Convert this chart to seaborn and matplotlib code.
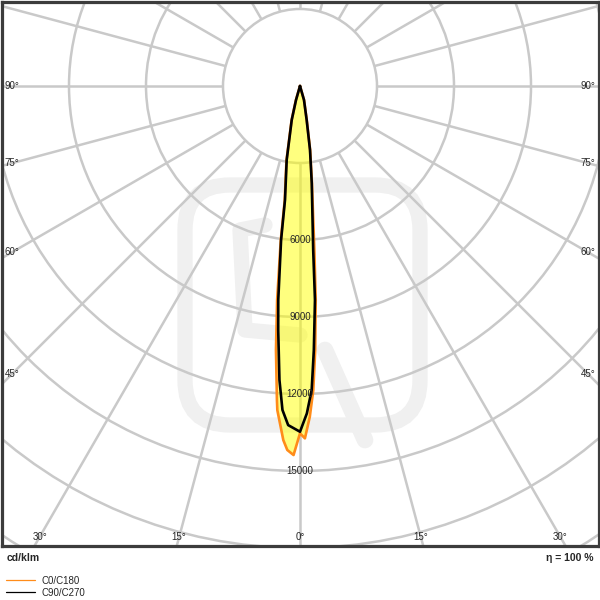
import numpy as np
import matplotlib
matplotlib.use("Agg")
import matplotlib.pyplot as plt
import seaborn as sns
from matplotlib.path import Path
from matplotlib.patches import PathPatch, Circle, FancyBboxPatch
from matplotlib.lines import Line2D

sns.set_style("white")
plt.rcParams['font.family'] = ['Liberation Sans', 'DejaVu Sans']

# light distribution: gamma (deg from nadir), intensity (cd/klm)
c180_gamma = [0.0, 1.0, 2.0, 2.7, 4.0, 4.2, 5.2, 6.1, 7.1, 7.6, 10.3, 13.8, 16.2, 25.0]
c180_int = [13530, 14380, 14190, 13810, 12660, 12270, 10330, 8390, 6080, 4510, 2950, 1370, 575, 0]
c0_gamma = [0.0, 0.8, 1.7, 2.5, 3.3, 4.2, 5.0, 7.0, 9.0, 11.2, 16.0, 25.0]
c0_int = [13530, 13730, 12890, 11860, 10300, 8360, 6420, 3815, 2525, 1352, 570, 0]

c270_gamma = [0.0, 2.0, 3.1, 4.0, 5.1, 5.8, 7.0, 7.5, 10.2, 13.7, 15.9, 25.0]
c270_int = [13470, 13220, 12640, 11480, 9550, 8380, 6050, 4480, 2930, 1360, 567, 0]
c90_gamma = [0.0, 1.2, 2.2, 3.0, 4.0, 4.6, 6.9, 8.9, 11.1, 15.9, 25.0]
c90_int = [13470, 12760, 11850, 10300, 8360, 6410, 3810, 2520, 1350, 567, 0]

ring_values = [3000, 6000, 9000, 12000, 15000, 18000, 21000, 24000]
ring_labels = [6000, 9000, 12000, 15000]
side_angles = [90, 75, 60, 45]
bottom_angles = [30, 15, 0]
grid_step = 15
unit = "cd/klm"
efficiency = "η = 100 %"
series_names = ["C0/C180", "C90/C270"]
series_colors = ["#ff8c1a", "#000000"]

k = 3000 / 77.0  # cd/klm per pixel


def curve_xy(left_g, left_i, right_g, right_i):
    lg = np.radians(left_g[::-1])
    li = np.array(left_i[::-1], dtype=float)
    rg = np.radians(right_g)
    ri = np.array(right_i, dtype=float)
    x = np.concatenate([-li * np.sin(lg), ri * np.sin(rg)])
    y = np.concatenate([-li * np.cos(lg), -ri * np.cos(rg)])
    return x, y


fig = plt.figure(figsize=(6, 6), dpi=100)
ax = fig.add_axes([1.5 / 600, 54 / 600, 597 / 600, 544.5 / 600])
ax.set_xlim(-298.5 * k, 298.5 * k)
ax.set_ylim(-460 * k, 84.5 * k)
ax.set_xticks([])
ax.set_yticks([])
for sp in ax.spines.values():
    sp.set_color("#3c3c3c")
    sp.set_linewidth(2.3)

# faint watermark logo
wm = "#f0f0f0"
ax.add_patch(FancyBboxPatch(((185 - 300) * k, -(425 - 86) * k), 235 * k, 240 * k,
                            boxstyle="round,pad=0,rounding_size=%f" % (45 * k),
                            fill=False, ec=wm, lw=11, zorder=0))
ax.plot([(325 - 300) * k, (365 - 300) * k], [-(350 - 86) * k, -(440 - 86) * k],
        color=wm, lw=12, solid_capstyle="round", zorder=0)
ax.plot([(265 - 300) * k, (240 - 300) * k, (245 - 300) * k, (300 - 300) * k],
        [-(225 - 86) * k, -(230 - 86) * k, -(330 - 86) * k, -(335 - 86) * k],
        color=wm, lw=11, solid_capstyle="round", zorder=0)

# polar grid
grid_col = "#c9c9c9"
for r in ring_values:
    ax.add_patch(Circle((0, 0), r, fill=False, ec=grid_col, lw=1.8, zorder=1))
for a in range(0, 360, grid_step):
    t = np.radians(a)
    ax.plot([3000 * np.sin(t), 40000 * np.sin(t)], [-3000 * np.cos(t), -40000 * np.cos(t)],
            color=grid_col, lw=1.8, zorder=1, solid_capstyle="butt")

# yellow fill (union of both curves)
xo, yo = curve_xy(c180_gamma, c180_int, c0_gamma, c0_int)
xb, yb = curve_xy(c270_gamma, c270_int, c90_gamma, c90_int)
verts = list(zip(xo, yo)) + [(xo[0], yo[0])] + list(zip(xb, yb)) + [(xb[0], yb[0])]
codes = ([Path.MOVETO] + [Path.LINETO] * (len(xo) - 1) + [Path.CLOSEPOLY]
         + [Path.MOVETO] + [Path.LINETO] * (len(xb) - 1) + [Path.CLOSEPOLY])
ax.add_patch(PathPatch(Path(verts, codes), fc="#ffff00", ec="none", alpha=0.5, zorder=2))

sns.lineplot(x=xo, y=yo, sort=False, estimator=None, color=series_colors[0], lw=1.9, ax=ax, zorder=3)
sns.lineplot(x=xb, y=yb, sort=False, estimator=None, color=series_colors[1], lw=1.9, ax=ax, zorder=4)

# radial value labels
for v in ring_labels:
    ax.text(0, -v, str(v), ha="center", va="center", fontsize=7, zorder=5)

# angle labels on an inset rectangle
sx, sy = 288 * k, 451 * k
for a in side_angles:
    t = np.radians(a)
    r = sx / np.sin(t)
    for s in (-1, 1):
        ax.text(s * r * np.sin(t), -r * np.cos(t), f"{a}°", ha="center", va="center", fontsize=7, zorder=5)
for a in bottom_angles:
    t = np.radians(a)
    r = sy / np.cos(t)
    for s in ((-1, 1) if a else (1,)):
        ax.text(s * r * np.sin(t), -r * np.cos(t), f"{a}°", ha="center", va="center", fontsize=7, zorder=5)

fig.text(7 / 600, 1 - 558 / 600, unit, ha="left", va="center", fontsize=7.5, fontweight="bold")
fig.text(593 / 600, 1 - 558 / 600, efficiency, ha="right", va="center", fontsize=7.5, fontweight="bold")

handles = [Line2D([], [], color=c, lw=0.9) for c in series_colors]
fig.legend(handles, series_names, loc="upper left", bbox_to_anchor=(-0.002, 1 - 569 / 600),
           frameon=False, fontsize=7, handlelength=3.0, handletextpad=0.7, labelspacing=0.2,
           borderpad=0.2)

plt.savefig("out.png", dpi=100)
